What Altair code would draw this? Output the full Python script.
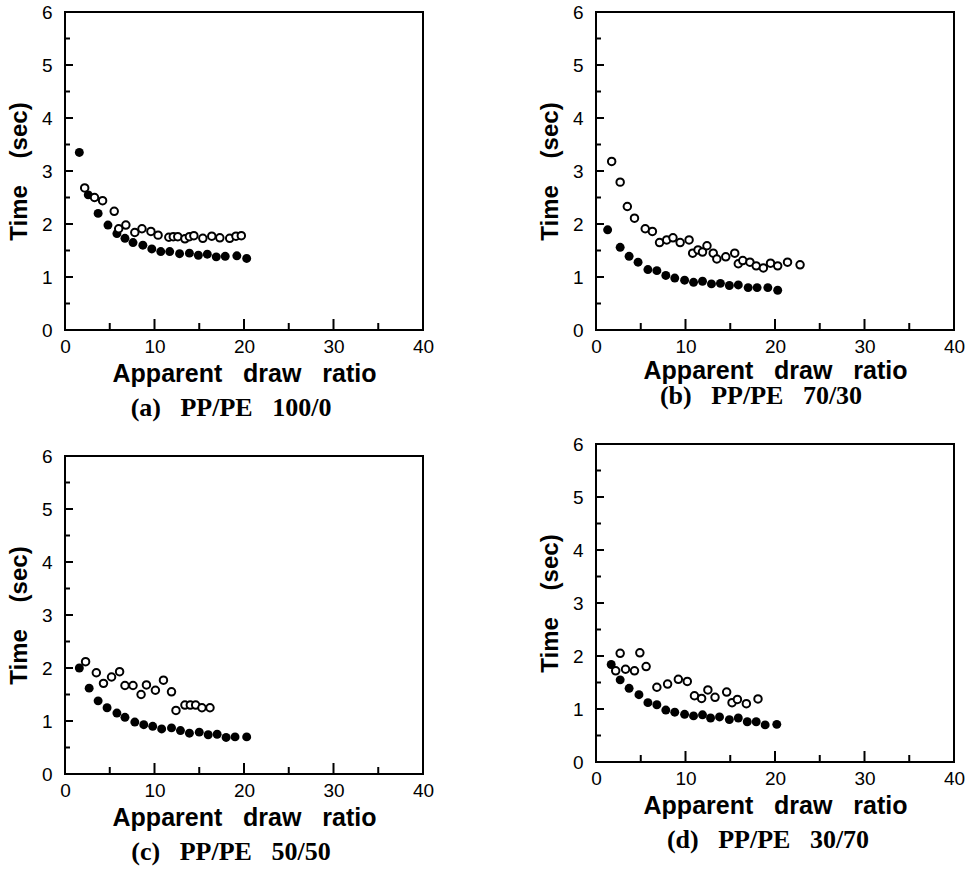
import altair as alt
import pandas as pd

# ---------------- data ----------------
# (a) PP/PE 100/0
a_filled_x = [1.6, 2.6, 3.7, 4.8, 5.8, 6.7, 7.6, 8.7, 9.7, 10.7, 11.7, 12.8, 13.9, 14.9, 15.9, 16.9, 17.9, 19.2, 20.3]
a_filled_y = [3.35, 2.55, 2.20, 1.98, 1.82, 1.73, 1.65, 1.60, 1.53, 1.48, 1.48, 1.44, 1.45, 1.41, 1.43, 1.38, 1.39, 1.40, 1.35]
a_open_x = [2.2, 3.3, 4.2, 5.5, 6.0, 6.8, 7.8, 8.6, 9.6, 10.4, 11.6, 12.1, 12.6, 13.4, 13.9, 14.4, 15.4, 16.4, 17.3, 18.4, 19.1, 19.7]
a_open_y = [2.68, 2.50, 2.44, 2.24, 1.91, 1.98, 1.84, 1.91, 1.86, 1.79, 1.75, 1.76, 1.76, 1.72, 1.76, 1.78, 1.73, 1.77, 1.74, 1.73, 1.77, 1.78]

# (b) PP/PE 70/30
b_filled_x = [1.3, 2.7, 3.7, 4.7, 5.8, 6.8, 7.8, 8.8, 9.9, 10.9, 11.9, 12.9, 13.9, 14.9, 15.9, 17.0, 18.0, 19.2, 20.3]
b_filled_y = [1.89, 1.56, 1.39, 1.28, 1.14, 1.12, 1.03, 0.98, 0.94, 0.90, 0.92, 0.87, 0.88, 0.84, 0.85, 0.80, 0.80, 0.80, 0.75]
b_open_x = [1.75, 2.7, 3.5, 4.3, 5.5, 6.3, 7.1, 7.9, 8.6, 9.4, 10.4, 10.8, 11.4, 11.9, 12.4, 13.1, 13.5, 14.5, 15.5, 15.9, 16.4, 17.2, 17.9, 18.7, 19.5, 20.3, 21.4, 22.8]
b_open_y = [3.18, 2.79, 2.33, 2.11, 1.91, 1.86, 1.65, 1.70, 1.74, 1.65, 1.70, 1.45, 1.51, 1.47, 1.59, 1.45, 1.34, 1.38, 1.45, 1.25, 1.31, 1.28, 1.21, 1.17, 1.26, 1.21, 1.28, 1.23]

# (c) PP/PE 50/50
c_filled_x = [1.6, 2.7, 3.7, 4.7, 5.8, 6.7, 7.8, 8.8, 9.8, 10.8, 11.9, 12.9, 13.9, 15.0, 16.0, 17.0, 18.0, 19.0, 20.3]
c_filled_y = [2.00, 1.62, 1.38, 1.25, 1.15, 1.07, 0.98, 0.93, 0.90, 0.85, 0.87, 0.82, 0.77, 0.79, 0.74, 0.75, 0.69, 0.70, 0.70]
c_open_x = [2.3, 3.5, 4.3, 5.2, 6.1, 6.7, 7.6, 8.5, 9.1, 10.1, 11.0, 11.9, 12.4, 13.4, 14.0, 14.6, 15.3, 16.2]
c_open_y = [2.12, 1.91, 1.71, 1.83, 1.93, 1.67, 1.67, 1.50, 1.68, 1.58, 1.77, 1.55, 1.20, 1.30, 1.30, 1.30, 1.25, 1.25]

# (d) PP/PE 30/70
d_filled_x = [1.7, 2.7, 3.7, 4.8, 5.8, 6.8, 7.8, 8.8, 9.9, 10.9, 11.9, 12.8, 13.8, 14.9, 15.9, 16.9, 17.9, 18.9, 20.2]
d_filled_y = [1.84, 1.55, 1.39, 1.27, 1.12, 1.08, 0.98, 0.94, 0.90, 0.87, 0.89, 0.83, 0.85, 0.80, 0.83, 0.76, 0.76, 0.70, 0.71]
d_open_x = [2.2, 2.7, 3.3, 4.3, 4.9, 5.6, 6.8, 8.0, 9.2, 10.2, 11.0, 11.8, 12.5, 13.3, 14.6, 15.2, 15.8, 16.8, 18.1]
d_open_y = [1.72, 2.05, 1.75, 1.72, 2.06, 1.80, 1.41, 1.47, 1.56, 1.52, 1.25, 1.20, 1.36, 1.22, 1.32, 1.12, 1.18, 1.10, 1.19]

x_major = [0, 10, 20, 30, 40]
x_minor = [5, 15, 25, 35]
y_major = [0, 1, 2, 3, 4, 5, 6]
y_minor = [0.5, 1.5, 2.5, 3.5, 4.5, 5.5]

NB = "\u00a0"
x_title = f"Apparent{NB*3}draw{NB*3}ratio"
y_title = f"Time{NB*4}(sec)"
captions = [f"(a){NB*3}PP/PE{NB*3}100/0", f"(b){NB*3}PP/PE{NB*3}70/30",
            f"(c){NB*3}PP/PE{NB*3}50/50", f"(d){NB*3}PP/PE{NB*3}30/70"]

# ---------------- chart ----------------
W, H = 358, 318
SANS = "Liberation Sans"
SERIF = "Liberation Serif"


def panel(fx, fy, ox, oy, caption, cap_dx, title_pad=5, cap_offset=9):
    xs = alt.Scale(domain=[0, 40], nice=False, zero=True)
    ys = alt.Scale(domain=[0, 6], nice=False, zero=True)
    xaxis = alt.Axis(values=x_major, ticks=False, domain=False, grid=False,
                     labelPadding=7, labelFont=SANS, labelFontSize=19, labelColor="black",
                     labelFlush=False, labelOverlap=False, format="d",
                     title=x_title, titleFont=SANS, titleFontWeight="bold", titleFontSize=25,
                     titleColor="black", titlePadding=title_pad)
    yaxis = alt.Axis(values=y_major, ticks=False, domain=False, grid=False,
                     labelPadding=13, labelFont=SANS, labelFontSize=19, labelColor="black",
                     labelFlush=False, labelOverlap=False, format="d",
                     title=y_title, titleFont=SANS, titleFontWeight="bold", titleFontSize=24,
                     titleColor="black", titlePadding=10)

    def xenc(field):
        return alt.X(f"{field}:Q", scale=xs, axis=xaxis)

    def yenc(field):
        return alt.Y(f"{field}:Q", scale=ys, axis=yaxis)

    xt_major = alt.Chart(pd.DataFrame({"t": x_major})).mark_rule(color="black", strokeWidth=2).encode(
        x=xenc("t"), y=alt.value(H), y2=alt.value(H - 11))
    xt_minor = alt.Chart(pd.DataFrame({"t": x_minor})).mark_rule(color="black", strokeWidth=2).encode(
        x=xenc("t"), y=alt.value(H), y2=alt.value(H - 7))
    yt_major = alt.Chart(pd.DataFrame({"t": y_major})).mark_rule(color="black", strokeWidth=2).encode(
        y=yenc("t"), x=alt.value(0), x2=alt.value(8))
    yt_minor = alt.Chart(pd.DataFrame({"t": y_minor})).mark_rule(color="black", strokeWidth=2).encode(
        y=yenc("t"), x=alt.value(0), x2=alt.value(5))

    filled = alt.Chart(pd.DataFrame({"x": fx, "y": fy})).mark_circle(
        size=80, color="black", opacity=1).encode(x=xenc("x"), y=yenc("y"))
    opened = alt.Chart(pd.DataFrame({"x": ox, "y": oy})).mark_point(
        shape="circle", size=56, filled=False, stroke="black", fill="white",
        fillOpacity=1, strokeWidth=2, opacity=1).encode(x=xenc("x"), y=yenc("y"))

    return alt.layer(xt_major, xt_minor, yt_major, yt_minor, filled, opened).properties(
        width=W, height=H,
        title=alt.TitleParams(caption, orient="bottom", font=SERIF, fontWeight="bold",
                              fontSize=26, color="black", offset=cap_offset, dx=cap_dx),
    )


pa = panel(a_filled_x, a_filled_y, a_open_x, a_open_y, captions[0], -13)
pb = panel(b_filled_x, b_filled_y, b_open_x, b_open_y, captions[1], -14, title_pad=2, cap_offset=0)
pc = panel(c_filled_x, c_filled_y, c_open_x, c_open_y, captions[2], -13)
pd_ = panel(d_filled_x, d_filled_y, d_open_x, d_open_y, captions[3], -7)

left = alt.vconcat(pa, pc, spacing=24)
right = alt.vconcat(pb, pd_, spacing=24)

chart = alt.hconcat(left, right, spacing=102).configure_view(
    stroke="black", strokeWidth=2
).properties(
    padding={"left": 6, "top": 2, "right": 2, "bottom": 2},
    background="white",
)

chart.save("out.html", embed_options={"renderer": "svg", "actions": False})
